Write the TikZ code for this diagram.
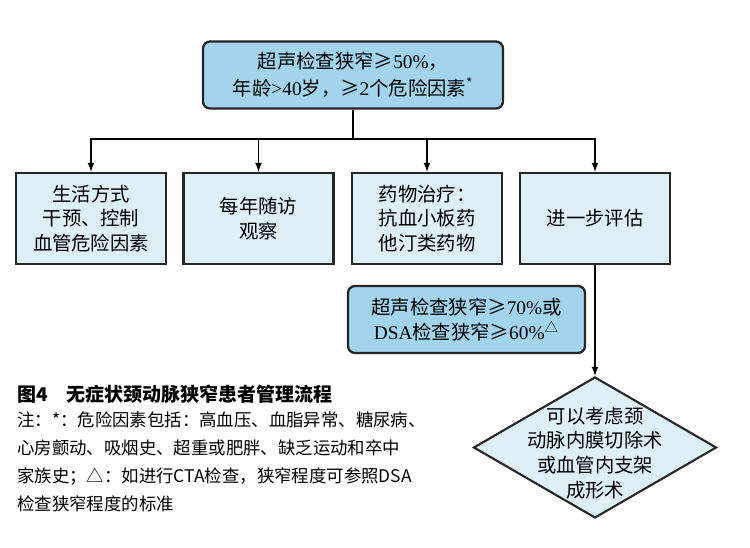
\documentclass[tikz,border=0pt]{standalone}
\usepackage{fontspec}
\setmainfont{Noto Sans CJK SC}
\newfontfamily\lat{Liberation Serif}
\usepackage{tikz}
\usetikzlibrary{shapes.geometric}
\usetikzlibrary{arrows.meta}
\tikzset{>=latex}
\usepackage{xcolor}
\definecolor{boxcol}{RGB}{162,212,238}
\definecolor{palecol}{RGB}{222,239,247}
\colorlet{edgecol}{black!85}
\tikzset{
	topbox/.style={draw=edgecol,line width=1.3pt,rounded corners=4pt,fill=boxcol,
		align=center,inner sep=0pt,font=\fontsize{11}{15.4}\selectfont},
	flowbox/.style={draw=edgecol,line width=1.2pt,fill=palecol,align=center,inner sep=0pt,
		minimum width=30mm,minimum height=18.2mm,font=\fontsize{11}{14}\selectfont},
	link/.style={->,line width=0.8pt,black}
}

\begin{document}
\begin{tikzpicture}[x=0.2mm,y=-0.2mm]
	\useasboundingbox (0,0) rectangle (750,548);
	
	% TOP
	\node[topbox,minimum width=60mm,minimum height=13.4mm] (screen) at (353,75)
	{超声检查狭窄≥{\lat 50\%}，\\年龄{\lat >40}岁，≥{\lat 2}个危险因素\textsuperscript{*}};
	\coordinate (bus) at (353,139);
	
	% OPTIONS
	\node[flowbox] (life) at (91,218.5) {生活方式\\干预、控制\\血管危险因素};
	\node[flowbox] (visit) at (258.5,218.5) {每年随访\\观察};
	\node[flowbox] (drug) at (427,218.5) {药物治疗：\\抗血小板药\\他汀类药物};
	\node[flowbox] (eval) at (595,218.5) {进一步评估};
	
	\draw[link] (screen.south) -- (bus) -| (life.north);
	\draw[link] (bus) -| (visit.north);
	\draw[link] (bus) -| (drug.north);
	\draw[link] (bus) -| (eval.north);
	
	% CRITERIA
	\node[topbox,minimum width=47.4mm,minimum height=13.4mm,
	font=\fontsize{11}{13.8}\selectfont] (stenosis) at (466.5,319.5)
	{超声检查狭窄≥{\lat 70\%}或\\{\lat DSA}检查狭窄≥{\lat 60\%}\textsuperscript{△}};
	
	\node[diamond,aspect=1.72,draw=edgecol,line width=1.2pt,fill=palecol,inner sep=0pt,
	minimum width=48.6mm,minimum height=28.2mm] (surg) at (595,447.5) {};
	\node[align=center,inner sep=0pt,font=\fontsize{11}{14}\selectfont] (surgtext)
	at (595,453) {可以考虑颈\\动脉内膜切除术\\或血管内支架\\成形术};
	\draw[link] (eval.south) -- (surg.north);
	
	% CAPTION
	\node[anchor=west,inner sep=0pt,font=\fontsize{10.8}{13}\selectfont\bfseries] (caption)
	at (17,394) {图4\hspace{1em}无症状颈动脉狭窄患者管理流程};
	\node[anchor=north west,align=left,inner sep=0pt,font=\fontsize{9.9}{16}\selectfont] (notes)
	at (17,411) {注：*：危险因素包括：高血压、血脂异常、糖尿病、\\
		心房颤动、吸烟史、超重或肥胖、缺乏运动和卒中\\
		家族史；△：如进行CTA检查，狭窄程度可参照DSA\\
		检查狭窄程度的标准};
\end{tikzpicture}
\end{document}
